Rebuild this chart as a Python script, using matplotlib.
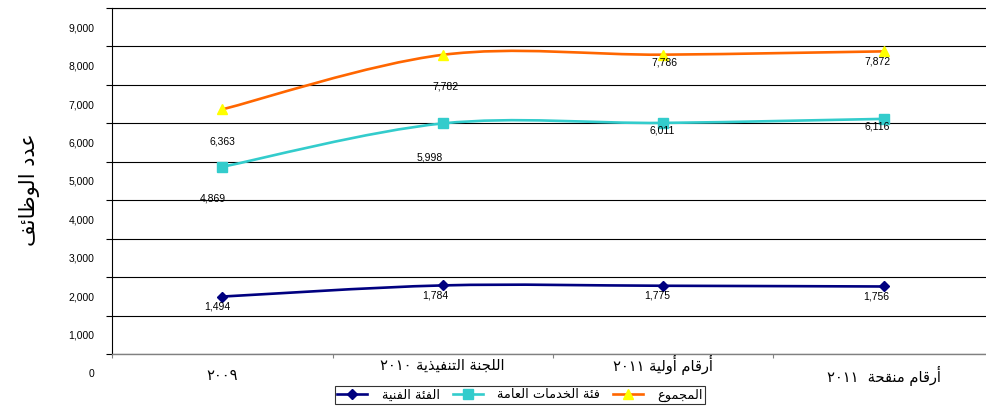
import re
import matplotlib
matplotlib.use("Agg")
import matplotlib.pyplot as plt
from matplotlib.path import Path
from matplotlib.patches import PathPatch
from matplotlib.lines import Line2D
from matplotlib.transforms import ScaledTranslation

# data
categories = ["٢٠٠٩", "اللجنة التنفيذية ٢٠١٠", "أرقام أولية ٢٠١١", "أرقام منقحة  ٢٠١١"]
professional = [1494, 1784, 1775, 1756]
general_service = [4869, 5998, 6011, 6116]
total = [6363, 7782, 7786, 7872]
series_names = ["الفئة الفنية", "فئة الخدمات العامة", "المجموع"]
y_label = "عدد الوظائف"
y_ticks = list(range(0, 10000, 1000))

# label offsets in pixels (style only)
label_offsets = [
    [(-5, -10), (-7, -10), (-6, -10), (-8, -10)],
    [(-9, -32), (-13, -34), (-1, -8), (-7, -8)],
    [(0, -32), (3, -32), (1, -8), (-6, -10)],
]
cat_label_dy = [-21, -11, -11, -22]

# --- minimal arabic shaping (matplotlib has no bidi/shaping) ---
FORMS = {
    '\u0621': ('\ufe80', '\ufe80', None, None),
    '\u0623': ('\ufe83', '\ufe84', None, None),
    '\u0626': ('\ufe89', '\ufe8a', '\ufe8b', '\ufe8c'),
    '\u0627': ('\ufe8d', '\ufe8e', None, None),
    '\u0629': ('\ufe93', '\ufe94', None, None),
    '\u062a': ('\ufe95', '\ufe96', '\ufe97', '\ufe98'),
    '\u062c': ('\ufe9d', '\ufe9e', '\ufe9f', '\ufea0'),
    '\u062d': ('\ufea1', '\ufea2', '\ufea3', '\ufea4'),
    '\u062e': ('\ufea5', '\ufea6', '\ufea7', '\ufea8'),
    '\u062f': ('\ufea9', '\ufeaa', None, None),
    '\u0630': ('\ufeab', '\ufeac', None, None),
    '\u0631': ('\ufead', '\ufeae', None, None),
    '\u0638': ('\ufec5', '\ufec6', '\ufec7', '\ufec8'),
    '\u0639': ('\ufec9', '\ufeca', '\ufecb', '\ufecc'),
    '\u0641': ('\ufed1', '\ufed2', '\ufed3', '\ufed4'),
    '\u0642': ('\ufed5', '\ufed6', '\ufed7', '\ufed8'),
    '\u0644': ('\ufedd', '\ufede', '\ufedf', '\ufee0'),
    '\u0645': ('\ufee1', '\ufee2', '\ufee3', '\ufee4'),
    '\u0646': ('\ufee5', '\ufee6', '\ufee7', '\ufee8'),
    '\u0648': ('\ufeed', '\ufeee', None, None),
    '\u064a': ('\ufef1', '\ufef2', '\ufef3', '\ufef4'),
}


def shape(s):
    out = []
    for i, ch in enumerate(s):
        if ch not in FORMS:
            out.append(ch)
            continue
        prev = s[i - 1] if i > 0 else ''
        nxt = s[i + 1] if i + 1 < len(s) else ''
        jp = prev in FORMS and FORMS[prev][2] is not None
        jn = nxt in FORMS and FORMS[ch][2] is not None
        iso, fin, ini, med = FORMS[ch]
        if jp and jn:
            out.append(med)
        elif jp:
            out.append(fin)
        elif jn:
            out.append(ini)
        else:
            out.append(iso)
    return ''.join(out)


def ar(s):
    s = shape(s)
    parts = re.findall(r'[\u0660-\u0669]+|[^\u0660-\u0669]+', s)
    vis = []
    for p in reversed(parts):
        vis.append(p if re.match(r'[\u0660-\u0669]', p) else p[::-1])
    return ''.join(vis)


def smooth_path(xs, ys):
    # bezier smoothing like the spreadsheet "smoothed line"
    n = len(xs)
    verts = [(xs[0], ys[0])]
    codes = [Path.MOVETO]
    for i in range(n - 1):
        i0 = max(i - 1, 0)
        i3 = min(i + 2, n - 1)
        c1 = (xs[i] + (xs[i + 1] - xs[i0]) / 6, ys[i] + (ys[i + 1] - ys[i0]) / 6)
        c2 = (xs[i + 1] - (xs[i3] - xs[i]) / 6, ys[i + 1] - (ys[i3] - ys[i]) / 6)
        verts += [c1, c2, (xs[i + 1], ys[i + 1])]
        codes += [Path.CURVE4] * 3
    return Path(verts, codes)


AR_FONT = ['DejaVu Sans']
NUM_FONT = ['Liberation Sans', 'DejaVu Sans']

fig = plt.figure(figsize=(9.86, 4.08), dpi=100)
ax = fig.add_axes([112 / 986, 54 / 408, 882 / 986, 346 / 408])

x = list(range(len(categories)))
styles = [
    dict(color='#000080', marker='D', mfc='#000080', mec='#000080', ms=5.5),
    dict(color='#33CCCC', marker='s', mfc='#33CCCC', mec='#33CCCC', ms=6.5),
    dict(color='#FF6600', marker='^', mfc='#FFFF00', mec='#FFFF00', ms=7.5),
]
handles = []
for vals, st, offs in zip([professional, general_service, total], styles, label_offsets):
    ax.add_patch(PathPatch(smooth_path(x, vals), fill=False, edgecolor=st['color'],
                           lw=1.9, zorder=3, capstyle='round'))
    ax.plot(x, vals, linestyle='none', marker=st['marker'], ms=st['ms'],
            mfc=st['mfc'], mec=st['mec'], zorder=4, clip_on=False)
    for xi, v, (dx, dy) in zip(x, vals, offs):
        ax.annotate(f"{v:,}", (xi, v), xytext=(dx, dy), textcoords='offset pixels',
                    ha='center', va='center', fontsize=7.5, family=NUM_FONT, zorder=5)
    handles.append(Line2D([], [], color=st['color'], lw=1.9, marker=st['marker'],
                          ms=st['ms'], mfc=st['mfc'], mec=st['mec']))

ax.set_xlim(-0.5, 3.5)
ax.set_ylim(0, 9000)

# y axis: labels sit half an interval below their gridline, as in the source
ax.set_yticks(y_ticks)
ax.set_yticklabels([f"{t:,}" for t in y_ticks], family=NUM_FONT, fontsize=7.5)
ax.tick_params(axis='y', length=4, width=0.8, color='black', pad=8.5)
offset = ScaledTranslation(0, -19.2 / 100, fig.dpi_scale_trans)
for lab in ax.get_yticklabels():
    lab.set_transform(lab.get_transform() + offset)
ax.yaxis.grid(True, color='black', lw=0.8)
ax.set_axisbelow(True)

ax.set_xticks([-0.5, 0.5, 1.5, 2.5])
ax.set_xticklabels([])
ax.tick_params(axis='x', length=3, width=0.8, color='#808080')
for i, (c, dy) in enumerate(zip(categories, cat_label_dy)):
    ax.annotate(ar(c), (i, 0), xycoords=('data', 'axes fraction'), xytext=(0, dy),
                textcoords='offset pixels', ha='center', va='center',
                fontsize=10.5, family=AR_FONT, annotation_clip=False)

ax.spines['left'].set_color('black')
ax.spines['left'].set_linewidth(0.8)
ax.spines['bottom'].set_color('#808080')
ax.spines['bottom'].set_linewidth(1.0)
ax.spines['top'].set_color('black')
ax.spines['top'].set_linewidth(0.8)
ax.spines['right'].set_visible(False)

fig.text(30 / 986, 1 - 190 / 408, ar(y_label), rotation=90, ha='center', va='center',
         fontsize=15, family=AR_FONT)

leg = fig.legend(handles, [ar(s) for s in series_names], loc='center',
                 bbox_to_anchor=(520 / 986, 13 / 408), ncol=3, frameon=True,
                 fancybox=False, edgecolor='black', borderpad=0.15, handlelength=2.3,
                 handletextpad=1.1, columnspacing=1.0, prop={'family': AR_FONT, 'size': 9.4})
leg.get_frame().set_linewidth(0.8)

fig.savefig('out.png', dpi=100)
